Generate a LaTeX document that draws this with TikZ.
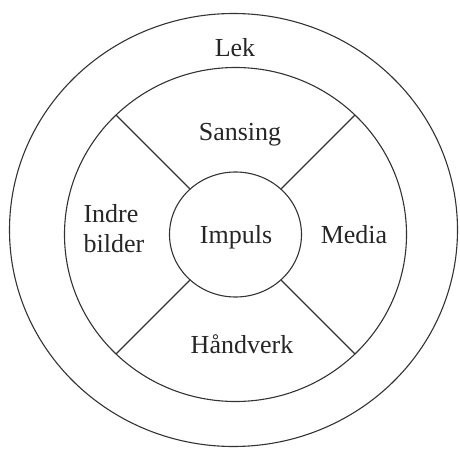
\documentclass[tikz,border=0pt]{standalone}
\usepackage{fontspec}
\setmainfont{Liberation Serif}
\usetikzlibrary{shapes.geometric, positioning}

\begin{document}
\begin{tikzpicture}[x=1pt, y=1pt, line width=1.1pt,
    ring/.style={draw=black!80, ellipse, inner sep=0pt},
    lbl/.style={font=\fontsize{26}{30}\selectfont, text=black!85, anchor=base, inner sep=0pt}]

            \useasboundingbox (0,0) rectangle (460,448);

            % Rings
            \node[ring, minimum width=448pt, minimum height=433pt] (lek) at (233.5,218) {};
            \node[ring, minimum width=342pt, minimum height=334pt] (mid) at (235.5,213.5) {};
            \node[ring, minimum width=132pt, minimum height=125pt] (imp) at (235.5,213.5) {};

            % Spokes: inner circle to middle ring
            \foreach \a in {45,135,225,315}
                \draw[black!80] (imp.\a) -- (mid.\a);

            % Labels
            \node[lbl] (leklbl) at (235,391) {Lek};
            \node[lbl] (sans) at (240,308) {Sansing};
            \node[lbl] (impl) at (236,205) {Impuls};
            \node[lbl] (media) at (354,205) {Media};
            \node[lbl, anchor=base west, align=left] (indre) at (83,196) {Indre\\[-0.1pt]bilder};
            \node[lbl] (hand) at (242,95) {Håndverk};

        \end{tikzpicture}
\end{document}
